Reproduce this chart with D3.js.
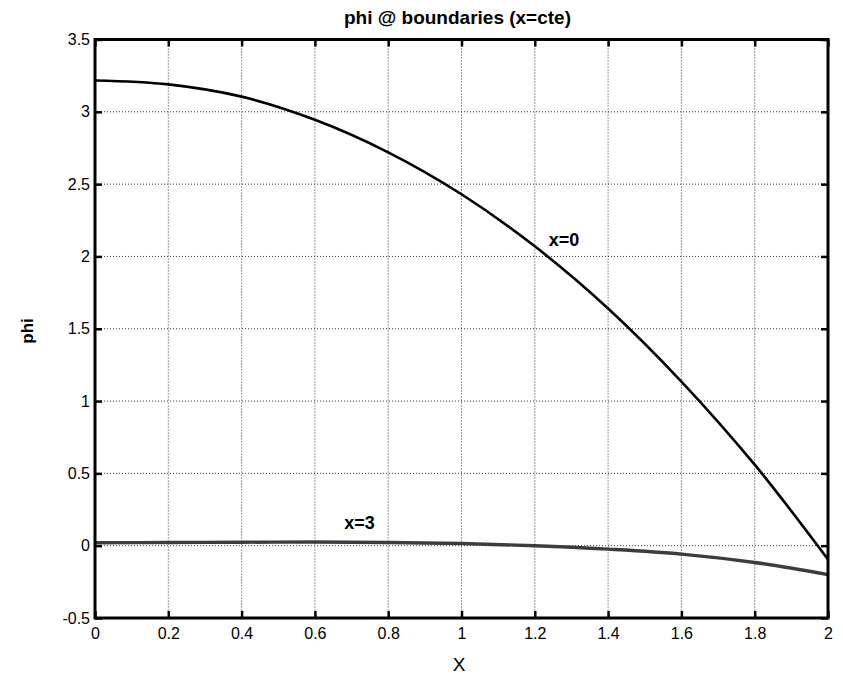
<!DOCTYPE html>
<html lang="en">
<head>
<meta charset="UTF-8">
<title>phi @ boundaries</title>
<script src="https://d3js.org/d3.v7.min.js"></script>
<style>
  body { margin: 0; background: #fff; }
  svg { font-family: Arial, "Liberation Sans", sans-serif; }
  .grid line { stroke: #333; stroke-width: 1; stroke-dasharray: 1,2; }
  .axis path { display: none; }
  .axis line { stroke: #000; stroke-width: 2.5; }
  .axis text { font-size: 16px; fill: #000; }
</style>
</head>
<body>
<svg width="843" height="674"></svg>
<script>
const xTicks = [0, 0.2, 0.4, 0.6, 0.8, 1, 1.2, 1.4, 1.6, 1.8, 2];
const yTicks = [-0.5, 0, 0.5, 1, 1.5, 2, 2.5, 3, 3.5];
const xs = [0, 0.2, 0.4, 0.6, 0.8, 1.0, 1.2, 1.4, 1.6, 1.8, 2.0];
const phiX0 = [3.217, 3.19, 3.105, 2.945, 2.72, 2.43, 2.07, 1.64, 1.135, 0.56, -0.095];
const phiX3 = [0.02, 0.022, 0.024, 0.025, 0.022, 0.015, 0.0, -0.024, -0.058, -0.116, -0.2];

const svg = d3.select("svg");
const margin = {top: 39.5, right: 15, bottom: 56, left: 95};
const width = +svg.attr("width") - margin.left - margin.right;
const height = +svg.attr("height") - margin.top - margin.bottom;
const g = svg.append("g").attr("transform", `translate(${margin.left},${margin.top})`);

const x = d3.scaleLinear().domain([0, 2]).range([0, width]);
const y = d3.scaleLinear().domain([-0.5, 3.5]).range([height, 0]);

// dotted grid
g.append("g").attr("class", "grid")
  .selectAll("line").data(xTicks.slice(1, -1)).join("line")
  .attr("x1", d => x(d)).attr("x2", d => x(d)).attr("y1", 0).attr("y2", height);
g.append("g").attr("class", "grid")
  .selectAll("line").data(yTicks.slice(1, -1)).join("line")
  .attr("y1", d => y(d)).attr("y2", d => y(d)).attr("x1", 0).attr("x2", width);

// axes with inward ticks (plain hyphen minus, like matlab)
const fmt = d => String(d);
g.append("g").attr("class", "axis").attr("transform", `translate(0,${height})`)
  .call(d3.axisBottom(x).tickValues(xTicks).tickFormat(fmt).tickSizeInner(-7).tickPadding(10));
g.append("g").attr("class", "axis")
  .call(d3.axisLeft(y).tickValues(yTicks).tickFormat(fmt).tickSizeInner(-7).tickPadding(5));
g.append("g").attr("class", "axis")
  .call(d3.axisTop(x).tickValues(xTicks).tickFormat("").tickSizeInner(-7));
g.append("g").attr("class", "axis").attr("transform", `translate(${width},0)`)
  .call(d3.axisRight(y).tickValues(yTicks).tickFormat("").tickSizeInner(-7));

// curves
const line = d3.line().x(d => x(d[0])).y(d => y(d[1])).curve(d3.curveCatmullRom);
g.append("path").datum(xs.map((v, i) => [v, phiX3[i]]))
  .attr("fill", "none").attr("stroke", "#3c3c3c").attr("stroke-width", 3.4).attr("d", line);
g.append("path").datum(xs.map((v, i) => [v, phiX0[i]]))
  .attr("fill", "none").attr("stroke", "#000").attr("stroke-width", 2.6).attr("d", line);

// frame
g.append("rect").attr("width", width).attr("height", height)
  .attr("fill", "none").attr("stroke", "#000").attr("stroke-width", 3);

// curve labels
g.append("text").attr("x", x(1.238)).attr("y", y(2.07))
  .attr("font-size", 18).attr("font-weight", "bold").text("x=0");
g.append("text").attr("x", x(0.68)).attr("y", y(0.115))
  .attr("font-size", 18).attr("font-weight", "bold").text("x=3");

// titles
svg.append("text").attr("x", 457.5).attr("y", 24).attr("text-anchor", "middle")
  .attr("font-size", 19).attr("font-weight", "bold").text("phi @ boundaries (x=cte)");
svg.append("text").attr("transform", "translate(33,331) rotate(-90)").attr("text-anchor", "middle")
  .attr("font-size", 17).attr("font-weight", "bold").text("phi");
svg.append("text").attr("x", 459).attr("y", 671).attr("text-anchor", "middle")
  .attr("font-size", 19).text("X");
</script>
</body>
</html>
